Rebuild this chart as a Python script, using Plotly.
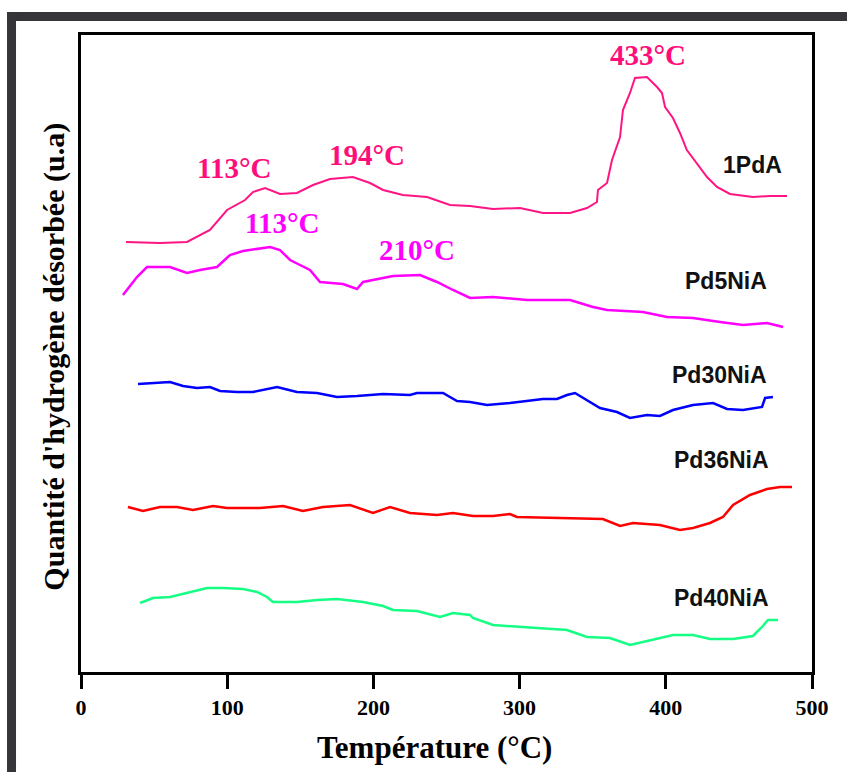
import plotly.graph_objects as go

# Temperature (°C) and desorbed hydrogen intensity (arbitrary units, stacked offsets)
t_1pda = [30.8, 54, 72.5, 88.2, 99.9, 112.2, 117.6, 125.9, 136.1, 147.7, 158.7, 170.3, 186, 197.7,
          206.6, 220.2, 236.7, 252.4, 266.1, 281.8, 300.3, 316, 334.5, 346.1, 352.9, 353.6, 359.8,
          363.2, 368.7, 370.7, 375.5, 378.9, 387.1, 394, 397.4, 399.5, 404.9, 409.7, 414.4, 421.3,
          428.2, 435, 443.9, 459.6, 471.3, 482.9]
y_1pda = [430, 429, 430, 442, 462, 472, 480, 484, 478, 479, 487, 493, 495, 489,
          482, 477, 475, 467, 466, 463, 464, 459, 459, 464, 470, 482, 489,
          512, 535, 562, 579, 594, 595, 585, 579, 565, 554, 539, 522, 509,
          495, 485, 478, 475, 476, 476]

t_pd5 = [28.7, 38.3, 45.1, 60.9, 72.5, 81.4, 93, 101.9, 110.8, 129.3, 136.1, 143, 156.6, 163.5,
         179.2, 188.8, 192.9, 213.4, 231.9, 243.5, 254.4, 266.1, 281.8, 305.1, 334.5, 350.2,
         359.8, 384.4, 400.8, 418.6, 437.1, 452.8, 469.2, 480.2]
y_pd5 = [377, 395, 405, 405, 399, 402, 405, 417, 421, 425, 422, 412, 402, 390,
         388, 383, 390, 396, 397, 390, 382, 374, 375, 372, 372, 365,
         362, 360, 355, 354, 350, 347, 349, 345]

t_pd30 = [39, 49.2, 60.9, 69.8, 79.3, 88.2, 95.1, 106.7, 117.6, 134.1, 147.7, 161.4, 175.1, 188.8,
          206.6, 225, 229.8, 247.6, 257.2, 266.1, 277.7, 293.4, 305.1, 316, 325.6, 332.4, 337.9,
          346.1, 355, 366.6, 375.5, 387.1, 396, 404.9, 418.6, 432.3, 441.9, 452.8, 465.8, 467.9, 473.3]
y_pd30 = [288, 289, 290, 286, 284, 285, 281, 280, 280, 285, 280, 279, 275, 276,
          278, 277, 279, 279, 271, 270, 267, 269, 271, 273, 273, 277, 279,
          272, 264, 260, 254, 257, 256, 262, 267, 269, 263, 262, 265, 274, 275]

t_pd36 = [32.1, 42.4, 54, 65.7, 76.6, 90.3, 99.9, 122.4, 138.2, 151.8, 165.5, 184, 199.7, 211.4,
          225, 243.5, 254.4, 268.1, 281.8, 293.4, 298.2, 327.6, 357, 368.7, 377.6, 396, 409.7,
          418.6, 430.2, 439.1, 446, 457.6, 469.2, 478.1, 486.3]
y_pd36 = [165, 161, 165, 165, 162, 166, 164, 164, 166, 161, 165, 167, 159, 165,
          159, 157, 159, 156, 156, 158, 155, 154, 153, 146, 149, 147, 142,
          144, 149, 155, 167, 177, 183, 185, 185]

t_pd40 = [40.4, 49.2, 60.9, 72.5, 86.2, 97.1, 110.8, 120.4, 127.2, 131.3, 147.7, 161.4, 175.1,
          192.9, 206.6, 213.4, 229.8, 245.6, 254.4, 266.1, 268.1, 281.8, 300.3, 316, 332.4,
          346.1, 361.8, 375.5, 389.2, 404.9, 418.6, 430.2, 446, 459.6, 465.8, 469.9, 476.7]
y_pd40 = [69, 74, 75, 79, 84, 84, 83, 80, 75, 70, 70, 72, 73,
          70, 66, 62, 61, 55, 59, 57, 54, 47, 45, 44, 42,
          35, 34, 27, 32, 37, 37, 33, 33, 36, 45, 52, 52]

series_names = ["1PdA", "Pd5NiA", "Pd30NiA", "Pd36NiA", "Pd40NiA"]
series_t = [t_1pda, t_pd5, t_pd30, t_pd36, t_pd40]
series_y = [y_1pda, y_pd5, y_pd30, y_pd36, y_pd40]
series_colors = ["#ff1483", "#ff00ff", "#0000ff", "#ff0000", "#14ff84"]
series_widths = [2, 2.5, 2.5, 2.5, 2.5]

# sample labels (x, y in data units)
label_x = [459.6, 441.2, 436.4, 438.4, 438.4]
label_y = [507, 391, 297, 212, 74]

# peak annotations
peak_text = ["433°C", "113°C", "194°C", "113°C", "210°C"]
peak_x = [387.8, 104.7, 195.6, 137.5, 229.8]
peak_y = [617, 504, 517, 449, 422]
peak_colors = ["#ff0d7a", "#ff0d7a", "#ff0d7a", "#ff00ff", "#ff00ff"]

x_ticks = [0, 100, 200, 300, 400, 500]

fig = go.Figure()
for name, tx, ty, col, lw in zip(series_names, series_t, series_y, series_colors, series_widths):
    fig.add_trace(go.Scatter(x=tx, y=ty, mode="lines", name=name,
                             line=dict(color=col, width=lw), showlegend=False))

annotations = []
for name, lx, ly in zip(series_names, label_x, label_y):
    annotations.append(dict(x=lx, y=ly, xref="x", yref="y", text="<b>" + name + "</b>",
                            showarrow=False, font=dict(family="Liberation Sans", size=23, color="#111111")))
for txt, px, py, pc in zip(peak_text, peak_x, peak_y, peak_colors):
    annotations.append(dict(x=px, y=py, xref="x", yref="y", text="<b>" + txt + "</b>",
                            showarrow=False, font=dict(family="Liberation Serif", size=29, color=pc)))
annotations.append(dict(x=-0.063, y=0.495, xref="paper", yref="paper",
                        text="<b>Quantité d'hydrogène désorbée (u.a)</b>", textangle=-90,
                        showarrow=False, font=dict(family="Liberation Serif", size=30, color="black")))
annotations.append(dict(x=0.483, y=-0.119, xref="paper", yref="paper", yanchor="middle",
                        text="<b>Température (°C)</b>",
                        showarrow=False, font=dict(family="Liberation Serif", size=31, color="black")))

shapes = [
    dict(type="rect", xref="paper", yref="paper", x0=-0.1012, x1=1.1, y0=1.022, y1=1.036,
         fillcolor="#363539", line=dict(width=0), layer="above"),
    dict(type="rect", xref="paper", yref="paper", x0=-0.1012, x1=-0.0889, y0=-0.2, y1=1.036,
         fillcolor="#363539", line=dict(width=0), layer="above"),
]

fig.update_layout(
    width=847, height=772,
    margin=dict(l=81, r=35, t=35, b=100),
    paper_bgcolor="white", plot_bgcolor="white",
    annotations=annotations, shapes=shapes,
    xaxis=dict(range=[0, 500], tickvals=x_ticks, ticktext=[str(v) for v in x_ticks],
               showgrid=False, zeroline=False, showline=True, mirror=True,
               linecolor="black", linewidth=3, ticks="outside", ticklen=14, tickwidth=3,
               tickcolor="black",
               tickfont=dict(family="Liberation Serif", size=22, color="black", weight="bold")),
    yaxis=dict(range=[0, 637], showgrid=False, zeroline=False, showline=True, mirror=True,
               linecolor="black", linewidth=3, showticklabels=False, ticks=""),
)

fig.write_html("out.html")
